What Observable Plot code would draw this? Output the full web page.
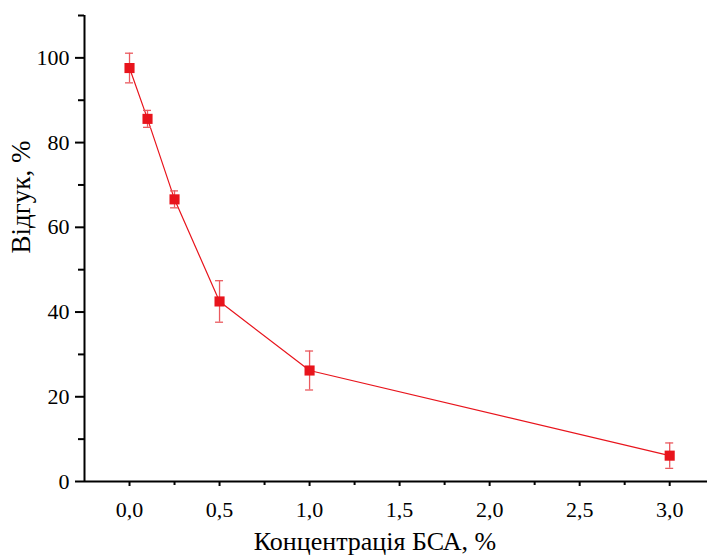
<!DOCTYPE html>
<html>
<head>
<meta charset="utf-8">
<script src="https://cdn.jsdelivr.net/npm/d3@7"></script>
<script src="https://cdn.jsdelivr.net/npm/@observablehq/plot@0.6"></script>
<style>
  html, body { margin: 0; padding: 0; background: #fff; }
  #chart svg { display: block; }
</style>
</head>
<body>
<div id="chart"></div>
<script>
const concentration = [0, 0.1, 0.25, 0.5, 1.0, 3.0];
const response = [97.6, 85.6, 66.6, 42.5, 26.2, 6.1];
const errors = [3.5, 2.0, 2.0, 4.9, 4.6, 3.0];
const xMajorTicks = [0, 0.5, 1.0, 1.5, 2.0, 2.5, 3.0];
const xMinorTicks = [0.25, 0.75, 1.25, 1.75, 2.25, 2.75];
const yMajorTicks = [0, 20, 40, 60, 80, 100];
const yMinorTicks = [10, 30, 50, 70, 90, 110];
const xTitle = "Концентрація БСА, %";
const yTitle = "Відгук, %";

const data = concentration.map((c, i) => ({x: c, y: response[i], lo: response[i] - errors[i], hi: response[i] + errors[i]}));

const red = "#e8141c";
const errRed = "#ea5a5f";
const font = "Times New Roman, Liberation Serif, DejaVu Serif, Noto Serif, serif";

const chart = Plot.plot({
  width: 707,
  height: 556,
  marginLeft: 84,
  marginTop: 15,
  marginBottom: 75,
  marginRight: 0,
  style: {background: "#fff", color: "#000"},
  x: {domain: [-0.25, 3.21]},
  y: {domain: [0, 110]},
  marks: [
    Plot.axisX({ticks: xMajorTicks, tickFormat: d => d.toFixed(1).replace(".", ","), tickSize: 5, tickPadding: 15, fontSize: 22, fontFamily: font, strokeWidth: 2, label: null}),
    Plot.ruleX(xMinorTicks, {x: d => d, y1: 0, y2: 0, insetBottom: -4, strokeWidth: 2, stroke: "#000"}),
    Plot.axisY({ticks: yMajorTicks, tickSize: 9, tickPadding: 6, fontSize: 22, fontFamily: font, strokeWidth: 2, label: null}),
    Plot.ruleY(yMinorTicks, {y: d => d, x1: -0.25, x2: -0.25, insetLeft: -6, strokeWidth: 2, stroke: "#000"}),
    Plot.ruleY([0], {strokeWidth: 2, stroke: "#000"}),
    Plot.ruleX([-0.25], {strokeWidth: 2, stroke: "#000"}),
    Plot.line(data, {x: "x", y: "y", stroke: red, strokeWidth: 1.2}),
    Plot.ruleX(data, {x: "x", y1: "lo", y2: "hi", stroke: errRed, strokeWidth: 1.3}),
    Plot.ruleY(data, {y: "hi", x1: "x", x2: "x", insetLeft: -4, insetRight: -4, stroke: errRed, strokeWidth: 1.3}),
    Plot.ruleY(data, {y: "lo", x1: "x", x2: "x", insetLeft: -4, insetRight: -4, stroke: errRed, strokeWidth: 1.3}),
    Plot.dot(data, {x: "x", y: "y", symbol: "square", r: 5.7, fill: red, stroke: "none"}),
    Plot.text([xTitle], {frameAnchor: "bottom", dx: -21, dy: 60, lineAnchor: "middle", fontSize: 26, fontFamily: font, fill: "#000"}),
    Plot.text([yTitle], {frameAnchor: "left", rotate: -90, dx: -63, dy: 5, lineAnchor: "middle", fontSize: 27, fontFamily: font, fill: "#000"})
  ]
});
chart.style.fontFamily = font;
chart.querySelectorAll("text").forEach(t => { t.setAttribute("font-family", font); t.style.fontFamily = font; });
document.getElementById("chart").append(chart);
</script>
</body>
</html>
